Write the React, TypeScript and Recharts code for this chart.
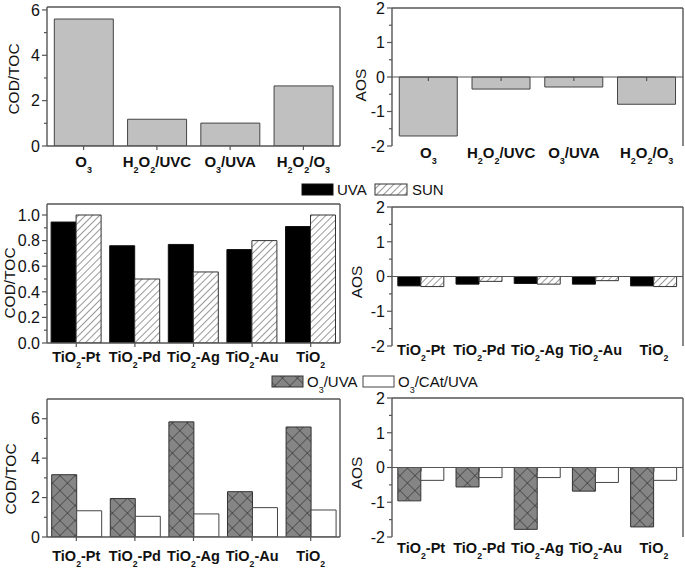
import React from 'react';
import { BarChart, Bar, XAxis, YAxis, ReferenceLine, CartesianGrid } from 'recharts';

// top row: single processes
const PROCESSES = ['O3', 'H2O2/UVC', 'O3/UVA', 'H2O2/O3'];
const PROCESS_COD = [5.6, 1.18, 1.01, 2.65];
const PROCESS_AOS = [-1.71, -0.35, -0.29, -0.79];

// middle + bottom rows: catalysts
const CATALYSTS = ['TiO2-Pt', 'TiO2-Pd', 'TiO2-Ag', 'TiO2-Au', 'TiO2'];
const COD_UVA = [0.945, 0.76, 0.77, 0.73, 0.91];
const COD_SUN = [1.0, 0.5, 0.555, 0.8, 1.0];
const AOS_UVA = [-0.27, -0.22, -0.2, -0.22, -0.27];
const AOS_SUN = [-0.29, -0.14, -0.22, -0.12, -0.29];
const COD_O3_UVA = [3.16, 1.95, 5.84, 2.3, 5.58];
const COD_O3_CAT_UVA = [1.33, 1.05, 1.17, 1.49, 1.37];
const AOS_O3_UVA = [-0.96, -0.56, -1.78, -0.68, -1.71];
const AOS_O3_CAT_UVA = [-0.37, -0.29, -0.29, -0.43, -0.37];

// tick values
const TICKS_COD_TOP = [0, 1, 2, 3, 4, 5, 6];
const TICKS_COD_MID = [0, 0.1, 0.2, 0.3, 0.4, 0.5, 0.6, 0.7, 0.8, 0.9, 1.0];
const TICKS_COD_BOT = [0, 1, 2, 3, 4, 5, 6];
const TICKS_AOS = [-2, -1.5, -1, -0.5, 0, 0.5, 1, 1.5, 2];

const FONT = '"Liberation Sans", Arial, Helvetica, sans-serif';
const AXIS = '#555';
const INK = '#111';

const topData = PROCESSES.map((name, i) => ({ name, cod: PROCESS_COD[i], aos: PROCESS_AOS[i] }));
const midData = CATALYSTS.map((name, i) => ({
  name, codUva: COD_UVA[i], codSun: COD_SUN[i], aosUva: AOS_UVA[i], aosSun: AOS_SUN[i],
}));
const botData = CATALYSTS.map((name, i) => ({
  name, codO3: COD_O3_UVA[i], codCat: COD_O3_CAT_UVA[i], aosO3: AOS_O3_UVA[i], aosCat: AOS_O3_CAT_UVA[i],
}));

// digits become subscripts (O3 -> O₃, TiO2 -> TiO₂)
function chemParts(s: string) {
  const out: { t: string; sub: boolean }[] = [];
  for (const ch of s) {
    const sub = /[0-9]/.test(ch);
    const last = out[out.length - 1];
    if (last && last.sub === sub) last.t += ch;
    else out.push({ t: ch, sub });
  }
  return out;
}

const ChemText = ({ x, y, text, size, bold, anchor = 'middle' }: any) => {
  let cur = 0;
  const subDy = size * 0.38;
  return (
    <text x={x} y={y} textAnchor={anchor} fontFamily={FONT} fontSize={size} fontWeight={bold ? 'bold' : 'normal'} fill={INK}>
      {chemParts(text).map((p, i) => {
        const target = p.sub ? subDy : 0;
        const dy = target - cur;
        cur = target;
        return (
          <tspan key={i} dy={dy} fontSize={p.sub ? size * 0.6 : size}>
            {p.t}
          </tspan>
        );
      })}
    </text>
  );
};

const makeXTick = (labelDy: number, size: number, markDy: number) => (props: any) => {
  const { x, y, payload } = props;
  return (
    <g>
      <line x1={x} x2={x} y1={y + markDy} y2={y + markDy + 4} stroke={AXIS} strokeWidth={1.2} />
      <ChemText x={x} y={y + labelDy} text={payload.value} size={size} bold />
    </g>
  );
};

const makeYTick = (majorStep: number, digits: number) => (props: any) => {
  const { x, y, payload } = props;
  const v = payload.value;
  const major = Math.abs(v / majorStep - Math.round(v / majorStep)) < 1e-6;
  return (
    <g>
      <line x1={x} x2={x - (major ? 5 : 3)} y1={y} y2={y} stroke={AXIS} strokeWidth={1.2} />
      {major && (
        <text x={x - 7} y={y} dy="0.36em" textAnchor="end" fontFamily={FONT} fontSize={16} fill={INK}>
          {v.toFixed(digits)}
        </text>
      )}
    </g>
  );
};

const makeYLabel = (text: string, cx: number, cy: number) => () => (
  <text
    x={cx}
    y={cy}
    transform={`rotate(-90 ${cx} ${cy})`}
    textAnchor="middle"
    dominantBaseline="central"
    fontFamily={FONT}
    fontSize={15.5}
    fill={INK}
  >
    {text}
  </text>
);

interface PanelProps {
  left: number;
  top: number;
  width: number;
  height: number;
  marginTop: number;
  marginRight: number;
  yWidth: number;
  xHeight: number;
  data: any[];
  series: { key: string; fill: string; stroke: string }[];
  domain: [number, number];
  ticks: number[];
  majorStep: number;
  digits: number;
  yLabel: string;
  labelAt: [number, number];
  labelDy: number;
  labelSize: number;
  zeroMark: number;
  signed: boolean;
  gap: string;
}

const Panel = (p: PanelProps) => (
  <div style={{ position: 'absolute', left: p.left, top: p.top }}>
    <BarChart
      width={p.width}
      height={p.height}
      data={p.data}
      margin={{ top: p.marginTop, right: p.marginRight, left: 0, bottom: 0 }}
      barCategoryGap={p.gap}
      barGap={0}
    >
      {/* frame: top edge and right edge of the plot box */}
      <CartesianGrid
        stroke={AXIS}
        strokeWidth={1.4}
        horizontalPoints={[p.marginTop]}
        verticalPoints={[p.width - p.marginRight]}
      />
      <XAxis
        dataKey="name"
        height={p.xHeight}
        axisLine={p.signed ? false : { stroke: AXIS, strokeWidth: 1.4 }}
        tickLine={false}
        tickSize={0}
        tickMargin={0}
        interval={0}
        tick={makeXTick(p.labelDy, p.labelSize, p.zeroMark)}
      />
      <YAxis
        type="number"
        width={p.yWidth}
        domain={p.domain}
        ticks={p.ticks}
        interval={0}
        allowDataOverflow
        axisLine={{ stroke: AXIS, strokeWidth: 1.4 }}
        tickLine={false}
        tickSize={0}
        tickMargin={0}
        tick={makeYTick(p.majorStep, p.digits)}
        label={makeYLabel(p.yLabel, p.labelAt[0], p.labelAt[1])}
      />
      {p.signed && <ReferenceLine y={0} stroke={AXIS} strokeWidth={1.2} />}
      {p.series.map((s) => (
        <Bar key={s.key} dataKey={s.key} fill={s.fill} stroke={s.stroke} strokeWidth={1} isAnimationActive={false} />
      ))}
    </BarChart>
  </div>
);

const Patterns = () => (
  <svg width={0} height={0} style={{ position: 'absolute' }}>
    <defs>
      <pattern id="hatch" width={5} height={5} patternUnits="userSpaceOnUse" patternTransform="rotate(45)">
        <rect width={5} height={5} fill="#fff" />
        <line x1={0} y1={0} x2={0} y2={5} stroke="#333" strokeWidth={1} />
      </pattern>
      <pattern id="cross" width={10.6} height={10.6} patternUnits="userSpaceOnUse" patternTransform="rotate(45)">
        <rect width={10.6} height={10.6} fill="#858585" />
        <line x1={0} y1={0} x2={0} y2={10.6} stroke="#222" strokeWidth={1} />
        <line x1={0} y1={0} x2={10.6} y2={0} stroke="#222" strokeWidth={1} />
      </pattern>
    </defs>
  </svg>
);

const BLACK = { fill: '#000', stroke: '#111' };
const HATCH = { fill: 'url(#hatch)', stroke: '#333' };
const CROSS = { fill: 'url(#cross)', stroke: '#333' };
const WHITE = { fill: '#fff', stroke: '#444' };

export default function App() {
  return (
    <div style={{ position: 'absolute', left: 0, top: 0, width: 685, height: 568, background: '#fff', overflow: 'hidden' }}>
      <Patterns />

      <Panel
        left={0} top={0} width={345} height={175} marginTop={7} marginRight={5} yWidth={47} xHeight={29}
        data={topData} series={[{ key: 'cod', fill: '#c0c0c0', stroke: '#444' }]}
        domain={[0, 6.13]} ticks={TICKS_COD_TOP} majorStep={2} digits={0}
        yLabel="COD/TOC" labelAt={[13, 79]} labelDy={21} labelSize={15} zeroMark={0} signed={false} gap="10%"
      />
      <Panel
        left={340} top={0} width={345} height={175} marginTop={8} marginRight={2} yWidth={52} xHeight={29}
        data={topData} series={[{ key: 'aos', fill: '#c0c0c0', stroke: '#444' }]}
        domain={[-2, 2]} ticks={TICKS_AOS} majorStep={1} digits={0}
        yLabel="AOS" labelAt={[20, 85]} labelDy={12} labelSize={15} zeroMark={-69} signed gap="10%"
      />

      <Panel
        left={0} top={180} width={345} height={190} marginTop={24} marginRight={5} yWidth={47} xHeight={27}
        data={midData} series={[{ key: 'codUva', ...BLACK }, { key: 'codSun', ...HATCH }]}
        domain={[0, 1.086]} ticks={TICKS_COD_MID} majorStep={0.2} digits={1}
        yLabel="COD/TOC" labelAt={[9, 103]} labelDy={19} labelSize={14.5} zeroMark={0} signed={false} gap="7%"
      />
      <Panel
        left={340} top={180} width={345} height={190} marginTop={27} marginRight={2} yWidth={52} xHeight={24}
        data={midData} series={[{ key: 'aosUva', ...BLACK }, { key: 'aosSun', ...HATCH }]}
        domain={[-2, 2]} ticks={TICKS_AOS} majorStep={1} digits={0}
        yLabel="AOS" labelAt={[16, 102]} labelDy={9} labelSize={14.5} zeroMark={-69.5} signed gap="10%"
      />

      <Panel
        left={0} top={370} width={345} height={198} marginTop={29} marginRight={5} yWidth={47} xHeight={31}
        data={botData} series={[{ key: 'codO3', ...CROSS }, { key: 'codCat', ...WHITE }]}
        domain={[0, 7]} ticks={TICKS_COD_BOT} majorStep={2} digits={0}
        yLabel="COD/TOC" labelAt={[10, 109]} labelDy={24} labelSize={14.5} zeroMark={0} signed={false} gap="8%"
      />
      <Panel
        left={340} top={370} width={345} height={198} marginTop={28} marginRight={2} yWidth={52} xHeight={31}
        data={botData} series={[{ key: 'aosO3', ...CROSS }, { key: 'aosCat', ...WHITE }]}
        domain={[-2, 2]} ticks={TICKS_AOS} majorStep={1} digits={0}
        yLabel="AOS" labelAt={[16, 103]} labelDy={16} labelSize={14.5} zeroMark={-69.5} signed gap="10%"
      />

      {/* legend: UVA / SUN */}
      <svg width={200} height={24} style={{ position: 'absolute', left: 260, top: 176 }}>
        <rect x={42} y={8} width={31} height={11} fill="#000" stroke="#111" />
        <text x={77} y={19} fontFamily={FONT} fontSize={15} fill={INK}>UVA</text>
        <rect x={115} y={8} width={32} height={11} fill="url(#hatch)" stroke="#333" />
        <text x={152} y={19} fontFamily={FONT} fontSize={15} fill={INK}>SUN</text>
      </svg>

      {/* legend: O3/UVA / O3/CAt/UVA */}
      <svg width={240} height={26} style={{ position: 'absolute', left: 260, top: 370 }}>
        <rect x={12} y={6} width={31} height={11} fill="url(#cross)" stroke="#333" />
        <ChemText x={47} y={17} text="O3/UVA" size={15} anchor="start" />
        <rect x={103} y={6} width={31} height={11} fill="#fff" stroke="#444" />
        <ChemText x={138} y={17} text="O3/CAt/UVA" size={15} anchor="start" />
      </svg>
    </div>
  );
}
